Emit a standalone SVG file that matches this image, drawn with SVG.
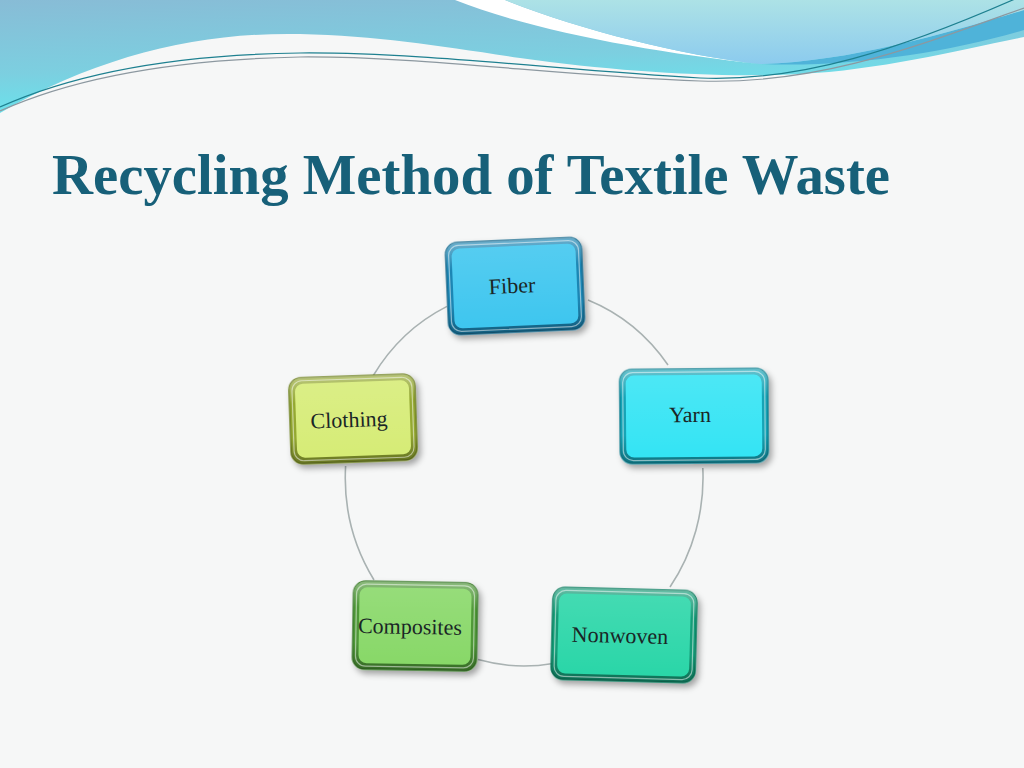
<svg xmlns="http://www.w3.org/2000/svg" width="1024" height="768" viewBox="0 0 1024 768">
  <defs>
    <linearGradient id="bandGrad" x1="0" y1="0" x2="0.3" y2="1">
      <stop offset="0" stop-color="#88bcd6"/>
      <stop offset="0.6" stop-color="#7ccfe0"/>
      <stop offset="1" stop-color="#66e6ee"/>
    </linearGradient>
    <linearGradient id="aquaGrad" x1="0" y1="0" x2="0" y2="1">
      <stop offset="0" stop-color="#ade2e6"/>
      <stop offset="1" stop-color="#8ccbee"/>
    </linearGradient>
    <linearGradient id="bevel" x1="0" y1="0" x2="0" y2="1">
      <stop offset="0" stop-color="#ffffff" stop-opacity="0.35"/>
      <stop offset="0.3" stop-color="#ffffff" stop-opacity="0"/>
      <stop offset="0.7" stop-color="#000000" stop-opacity="0"/>
      <stop offset="1" stop-color="#000000" stop-opacity="0.3"/>
    </linearGradient>
    <linearGradient id="face" x1="0" y1="0" x2="0" y2="1">
      <stop offset="0" stop-color="#ffffff" stop-opacity="0.12"/>
      <stop offset="1" stop-color="#ffffff" stop-opacity="0"/>
    </linearGradient>
    <filter id="shadow" x="-20%" y="-20%" width="140%" height="150%">
      <feDropShadow dx="3" dy="4" stdDeviation="3" flood-color="#000000" flood-opacity="0.35"/>
    </filter>
    <style>
      .title { font-family: "Liberation Serif", "Times New Roman", serif; font-weight: bold; font-size: 56px; fill: #176079; }
      .label { font-family: "Liberation Serif", "Times New Roman", serif; font-size: 22px; fill: #1a2626; text-anchor: middle; }
      .conn { fill: none; stroke: #a9b2b2; stroke-width: 1.6; }
      .hl { fill: none; stroke: #ffffff; stroke-opacity: 0.5; stroke-width: 1.2; }
      .rim { stroke-width: 1.5; stroke-opacity: 0.9; }
    </style>
  </defs>

  <!-- background -->
  <rect x="0" y="0" width="1024" height="768" fill="#f6f7f7"/>

  <!-- header waves -->
  <path d="M0,0 H1024 V37 C 960,50 880,70 800,74 C 720,78 620,72 520,58 C 440,46 380,36 300,34 C 200,32 100,55 0,113 Z" fill="url(#bandGrad)"/>
  <path d="M760,64 C 850,62 950,32 1024,10 V30 C 950,52 850,68 760,64 Z" fill="#4fb3d9"/>
  <path d="M455,0 L505,0 C 580,30 680,55 760,64 C 650,52 530,30 455,0 Z" fill="#ffffff"/>
  <path d="M505,0 H1024 V10 C 950,32 850,62 760,64 C 680,55 580,30 505,0 Z" fill="url(#aquaGrad)"/>
  <path d="M0,107 C 60,80 150,55 300,53 C 420,52 560,70 700,78 C 800,82 900,50 1024,-5" fill="none" stroke="#1e8090" stroke-width="1.2"/>
  <path d="M0,111 C 60,84 150,60 300,57 C 420,56 560,76 700,81 C 820,85 920,45 1024,8" fill="none" stroke="#8c98a0" stroke-width="1.2"/>

  <!-- title -->
  <text class="title" x="52" y="194" textLength="838" lengthAdjust="spacingAndGlyphs">Recycling Method of Textile Waste</text>

  <!-- connectors -->
  <g id="connectors">
    <path class="conn" d="M588,300 A179,189 0 0 1 668,365"/>
    <path class="conn" d="M702.8,468 A179,189 0 0 1 670,587"/>
    <path class="conn" d="M553,663.5 A179,189 0 0 1 478,659.6"/>
    <path class="conn" d="M374,580 A179,189 0 0 1 345.6,466"/>
    <path class="conn" d="M373,376 A179,189 0 0 1 447,306.4"/>
  </g>

  <!-- nodes -->
  <g id="node-fiber" transform="translate(515,286) rotate(-2.5)">
    <rect class="rim" x="-68" y="-46" width="136" height="92" rx="12" fill="#1a86b4" stroke="#11668c" filter="url(#shadow)"/>
    <rect x="-68" y="-46" width="136" height="92" rx="12" fill="url(#bevel)"/>
    <rect x="-62" y="-40" width="124" height="80" rx="8" fill="#3ec6ef"/>
    <rect x="-62" y="-40" width="124" height="80" rx="8" fill="url(#face)"/>
    <rect class="hl" x="-65" y="-43" width="130" height="86" rx="10"/>
    <text class="label" x="-3" y="7">Fiber</text>
  </g>

  <g id="node-yarn" transform="translate(694,416) rotate(-0.5)">
    <rect class="rim" x="-74" y="-47" width="148" height="94" rx="12" fill="#18a4b6" stroke="#0f8090" filter="url(#shadow)"/>
    <rect x="-74" y="-47" width="148" height="94" rx="12" fill="url(#bevel)"/>
    <rect x="-68" y="-41" width="136" height="82" rx="8" fill="#34e4f4"/>
    <rect x="-68" y="-41" width="136" height="82" rx="8" fill="url(#face)"/>
    <rect class="hl" x="-71" y="-44" width="142" height="88" rx="10"/>
    <text class="label" x="-4" y="6">Yarn</text>
  </g>

  <g id="node-clothing" transform="translate(353,419) rotate(-2)">
    <rect class="rim" x="-63" y="-43" width="126" height="86" rx="12" fill="#94a832" stroke="#6e8020" filter="url(#shadow)"/>
    <rect x="-63" y="-43" width="126" height="86" rx="12" fill="url(#bevel)"/>
    <rect x="-57" y="-37" width="114" height="74" rx="8" fill="#d6ec76"/>
    <rect x="-57" y="-37" width="114" height="74" rx="8" fill="url(#face)"/>
    <rect class="hl" x="-60" y="-40" width="120" height="80" rx="10"/>
    <text class="label" x="-4" y="8">Clothing</text>
  </g>

  <g id="node-composites" transform="translate(415,626) rotate(1)">
    <rect class="rim" x="-62" y="-44" width="124" height="88" rx="12" fill="#509838" stroke="#3a7a28" filter="url(#shadow)"/>
    <rect x="-62" y="-44" width="124" height="88" rx="12" fill="url(#bevel)"/>
    <rect x="-56" y="-38" width="112" height="76" rx="8" fill="#88d868"/>
    <rect x="-56" y="-38" width="112" height="76" rx="8" fill="url(#face)"/>
    <rect class="hl" x="-59" y="-41" width="118" height="82" rx="10"/>
    <text class="label" x="-5" y="8">Composites</text>
  </g>

  <g id="node-nonwoven" transform="translate(624,635) rotate(1.5)">
    <rect class="rim" x="-72" y="-46" width="144" height="92" rx="12" fill="#129c78" stroke="#0a7a5c" filter="url(#shadow)"/>
    <rect x="-72" y="-46" width="144" height="92" rx="12" fill="url(#bevel)"/>
    <rect x="-66" y="-40" width="132" height="80" rx="8" fill="#2ad6a8"/>
    <rect x="-66" y="-40" width="132" height="80" rx="8" fill="url(#face)"/>
    <rect class="hl" x="-69" y="-43" width="138" height="86" rx="10"/>
    <text class="label" x="-4" y="8">Nonwoven</text>
  </g>
</svg>
